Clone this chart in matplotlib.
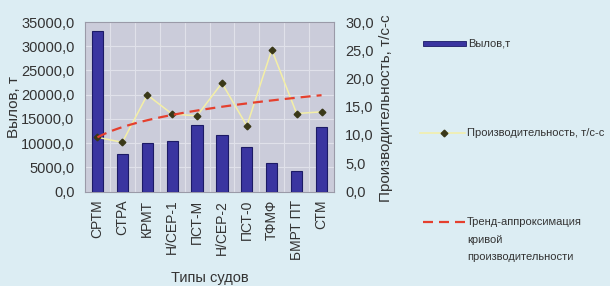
import numpy as np
import matplotlib
matplotlib.use("Agg")
import matplotlib.pyplot as plt
from matplotlib.patches import Rectangle
from matplotlib.lines import Line2D

plt.rcParams['font.family'] = ['Liberation Sans', 'DejaVu Sans']

categories = ['СРТМ', 'СТРА', 'КРМТ', 'Н/СЕР-1', 'ПСТ-М', 'Н/СЕР-2', 'ПСТ-0', 'ТФМФ', 'БМРТ ПТ', 'СТМ']
catch_t = [33100, 7770, 9980, 10520, 13630, 11700, 9280, 5840, 4250, 13420]
productivity = [9.6, 8.7, 17.1, 13.7, 13.4, 19.2, 11.6, 25.1, 13.8, 14.1]
left_ticks = [0, 5000, 10000, 15000, 20000, 25000, 30000, 35000]
right_ticks = [0, 5, 10, 15, 20, 25, 30]

def fmt(v, d=1):
    return f"{v:.{d}f}".replace('.', ',')

W, H = 610, 286
fig = plt.figure(figsize=(W/100, H/100), dpi=100)
fig.patch.set_facecolor('#dcedf3')
ax = fig.add_axes([85/W, 1-191.5/H, (334-85)/W, (191.5-22)/H])
ax.set_facecolor('#cbccda')

TXT = '#333333'
BAR = '#3a35a0'
BAR_EDGE = '#1c1a66'
LINE = '#f4efa6'
MK = '#3a3818'
TREND = '#e5402e'

x = np.arange(len(categories))
ax.bar(x, catch_t, width=0.45, color=BAR, edgecolor=BAR_EDGE, linewidth=0.8, zorder=3)
ax.set_xlim(-0.5, len(categories)-0.5)
ax.set_ylim(0, 35000)
ax.set_yticks(left_ticks)
ax.set_yticklabels([fmt(v) for v in left_ticks], fontsize=10.5, color=TXT)
ax.set_xticks(x)
ax.set_xticklabels(categories, rotation=90, fontsize=10, color=TXT)
ax.set_xticks(np.arange(len(categories)+1)-0.5, minor=True)
ax.grid(True, axis='y', color='#e0e1ea', linewidth=0.8, zorder=0)
ax.grid(True, axis='x', which='minor', color='#e0e1ea', linewidth=0.8, zorder=0)
ax.tick_params(axis='x', which='both', length=0, pad=6)
ax.tick_params(axis='y', length=0, pad=7.5)
ax.set_ylabel('Вылов, т', fontsize=11, color=TXT)
ax.yaxis.set_label_coords((21-85)/249, 0.5)
ax.set_xlabel('Типы судов', fontsize=10.5, color=TXT)
ax.xaxis.set_label_coords(0.5, -(271-191.5)/169.5)
for s in ax.spines.values():
    s.set_color('#9a9aa8')
    s.set_linewidth(0.8)

ax2 = ax.twinx()
ax2.set_ylim(0, 30)
ax2.set_yticks(right_ticks)
ax2.set_yticklabels([fmt(v) for v in right_ticks], fontsize=10.5, color=TXT)
ax2.tick_params(axis='y', length=0, pad=8)
ax2.set_ylabel('Производительность, т/с-с', fontsize=11, color=TXT)
ax2.yaxis.set_label_coords((379-85)/249, 0.49)
for s in ax2.spines.values():
    s.set_visible(False)

ax2.plot(x, productivity, color=LINE, linewidth=1.1, marker='D', markersize=3.4,
         markerfacecolor=MK, markeredgecolor=MK, zorder=4)

# power trend fitted to productivity (y = a * n^b)
b, lna = np.polyfit(np.log(x + 1), np.log(productivity), 1)
xt = np.linspace(0, len(categories)-1, 100)
ax2.plot(xt, np.exp(lna) * (xt + 1) ** b, color=TREND, linewidth=1.6, dashes=(4.5, 2.7), zorder=5)

# legend (drawn manually)
def fx(px):
    return px / W

def fy(py):
    return 1 - py / H

fig.add_artist(Rectangle((fx(423), fy(46)), (466-423)/W, 5/H, transform=fig.transFigure,
                         facecolor=BAR, edgecolor=BAR_EDGE, linewidth=0.6))
fig.text(fx(468), fy(43), 'Вылов,т', fontsize=8, color=TXT, va='center', ha='left')

fig.add_artist(Line2D([fx(420), fx(465)], [fy(133), fy(133)], transform=fig.transFigure,
                      color=LINE, linewidth=1.1))
fig.add_artist(Line2D([fx(444)], [fy(133)], transform=fig.transFigure, linestyle='none',
                      marker='D', markersize=3.4, markerfacecolor=MK, markeredgecolor=MK))
fig.text(fx(467), fy(133), 'Производительность, т/с-с', fontsize=8, color=TXT, va='center', ha='left')

fig.add_artist(Line2D([fx(423), fx(466)], [fy(222), fy(222)], transform=fig.transFigure,
                      color=TREND, linewidth=1.6, dashes=(4.5, 2.7)))
fig.text(fx(467), fy(222), 'Тренд-аппроксимация', fontsize=8, color=TXT, va='center', ha='left')
fig.text(fx(467), fy(240), 'кривой', fontsize=8, color=TXT, va='center', ha='left')
fig.text(fx(467), fy(257), 'производительности', fontsize=8, color=TXT, va='center', ha='left')

fig.savefig('out.png', dpi=100, facecolor=fig.get_facecolor())
